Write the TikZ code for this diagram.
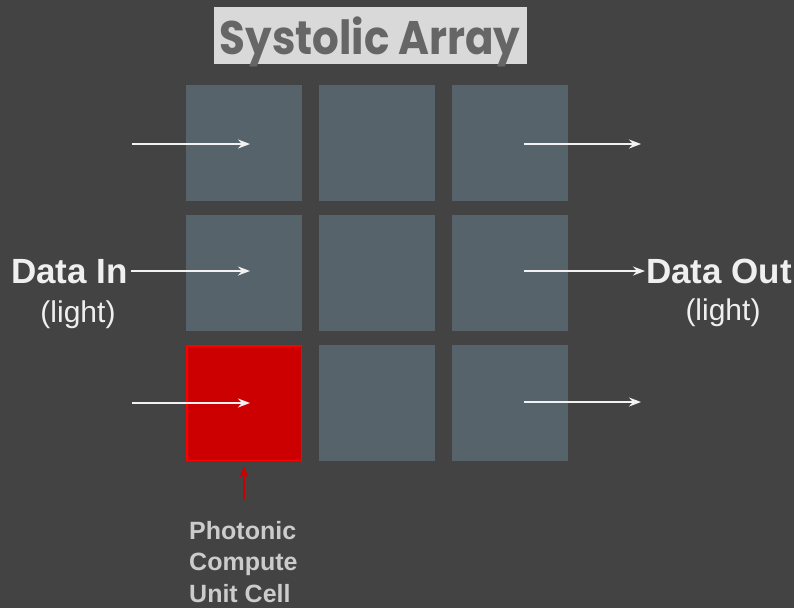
\documentclass[tikz,border=0pt]{standalone}
\usepackage{fontspec}
\setmainfont{Liberation Sans}
\newfontfamily\titlefont{Poppins}
\usetikzlibrary{arrows.meta}
\definecolor{bg}{HTML}{434343}
\definecolor{cellc}{HTML}{56636A}
\definecolor{redfill}{HTML}{CC0000}
\definecolor{redline}{HTML}{FF0000}
\definecolor{titlebg}{HTML}{D9D9D9}
\definecolor{titlefg}{HTML}{666666}
\definecolor{lbl}{HTML}{EFEFEF}
\definecolor{pcu}{HTML}{CCCCCC}
\tikzset{
  cellbox/.style={fill=cellc, draw=none, minimum width=116pt, minimum height=116pt, inner sep=0pt, anchor=north west},
  redbox/.style={fill=redfill, draw=redline, line width=1.5pt, minimum width=114.5pt, minimum height=114.5pt, inner sep=0pt},
  flow/.style={draw=white!95!black, line width=1.6pt, -{Stealth[length=12pt,width=9pt]}},
  bigtxt/.style={text=lbl, font=\fontsize{35}{40}\selectfont\bfseries, inner sep=0pt},
  smalltxt/.style={text=lbl, font=\fontsize{30}{34}\selectfont, inner sep=0pt},
}
\begin{document}
\begin{tikzpicture}[x=1pt,y=-1pt]
\fill[bg] (0,0) rectangle (794,608);
\useasboundingbox (0,0) rectangle (794,608);
% title
\node[fill=titlebg, minimum width=313pt, minimum height=57pt, inner sep=0pt, anchor=north west] (tbox) at (214,7) {};
\node[text=titlefg, font=\titlefont\fontsize{42}{48}\selectfont\bfseries, inner sep=0pt, anchor=base] (title) at (370,54) {\scalebox{1}[1.12]{Systolic Array}};
% cells
\node[cellbox] (c11) at (186,85) {};
\node[cellbox] (c12) at (319,85) {};
\node[cellbox] (c13) at (452,85) {};
\node[cellbox] (c21) at (186,215) {};
\node[cellbox] (c22) at (319,215) {};
\node[cellbox] (c23) at (452,215) {};
\node[redbox] (c31) at (244,403) {};
\node[cellbox] (c32) at (319,345) {};
\node[cellbox] (c33) at (452,345) {};
% labels
\node[bigtxt, anchor=base east] (din) at (128,283) {Data In};
\node[smalltxt, anchor=base] (dinl) at (78,322) {(light)};
\node[bigtxt, anchor=base west] (dout) at (646,283) {Data Out};
\node[smalltxt, anchor=base] (doutl) at (723,320) {(light)};
% coordinates
\coordinate (i1) at (132,144);
\coordinate (i3) at (132,403);
\coordinate (e1) at (250,144);
\coordinate (e2) at (250,271);
\coordinate (e3) at (250,403);
\coordinate (s1) at (524,144);
\coordinate (s2) at (524,271);
\coordinate (s3) at (524,402);
\coordinate (o1) at (641,144);
\coordinate (o2) at (645,271);
\coordinate (o3) at (641,402);
% arrows
\draw[flow] (i1) -- (e1);
\draw[flow] (din.east |- e2) ++(3,0) -- (e2);
\draw[flow] (i3) -- (e3);
\draw[flow] (s1) -- (o1);
\draw[flow] (s2) -- (o2);
\draw[flow] (s3) -- (o3);
% photonic label
\node[text=pcu, font=\fontsize{25}{31.5}\selectfont\bfseries, align=left, anchor=north west, inner sep=0pt] (pcu) at (189,521) {Photonic\\Compute\\Unit Cell};
\coordinate (rb) at (244,499);
\draw[draw=redfill, line width=1.6pt, -{Stealth[length=12pt,width=9pt]}] (rb) -- (c31.south |- 0,466);
\end{tikzpicture}
\end{document}
